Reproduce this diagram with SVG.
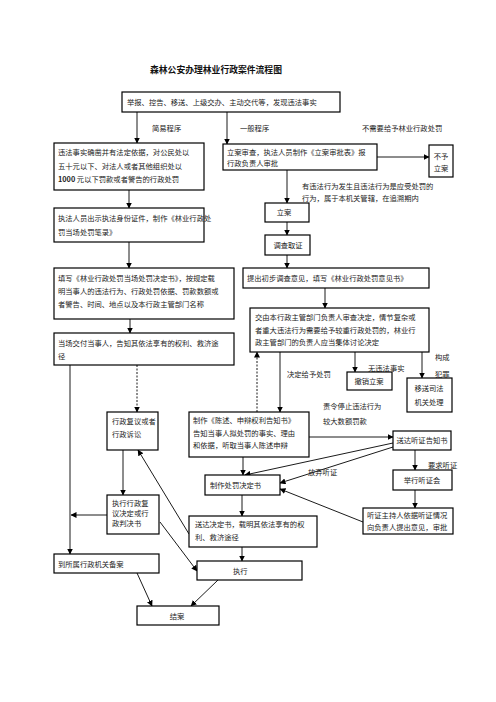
<svg xmlns="http://www.w3.org/2000/svg" width="496" height="702" viewBox="0 0 496 702">
<defs>
<marker id="ah" markerWidth="6" markerHeight="6" refX="5.5" refY="3" orient="auto" markerUnits="userSpaceOnUse">
<path d="M0,0 L6,3 L0,6 Z" fill="#000"/>
</marker>
<style>
.box{fill:#fff;stroke:#000;stroke-width:1.2}
.t{font-family:"Noto Sans CJK SC","Noto Sans",sans-serif;font-size:7.3px;fill:#222}
.m{text-anchor:middle}
.c{fill:none;stroke:#000;stroke-width:0.9}
.a{marker-end:url(#ah)}
.d{stroke-dasharray:2,1.5}
.title{font-family:"Noto Sans CJK SC","Noto Sans",sans-serif;font-size:8.8px;font-weight:bold;fill:#111}
</style>
</defs>
<rect width="496" height="702" fill="#fff"/>
<text class="title" x="150" y="73">森林公安办理林业行政案件流程图</text>

<g id="connectors">
<line class="c a" x1="137" y1="112" x2="137" y2="143"/>
<line class="c a" x1="227" y1="112" x2="227" y2="144"/>
<line class="c a" x1="377" y1="157" x2="429" y2="157"/>
<line class="c a" x1="287" y1="170" x2="287" y2="203"/>
<line class="c a" x1="287" y1="222" x2="287" y2="235"/>
<line class="c a" x1="287" y1="255" x2="287" y2="268"/>
<line class="c a" x1="325" y1="288" x2="325" y2="308"/>
<line class="c a" x1="129" y1="190" x2="129" y2="208"/>
<line class="c a" x1="129" y1="242" x2="129" y2="268"/>
<line class="c a" x1="130" y1="319" x2="130" y2="333"/>
<line class="c a d" x1="137" y1="365" x2="137" y2="412"/>
<line class="c a" x1="70" y1="365" x2="70" y2="554"/>
<line class="c a d" x1="257" y1="412" x2="257" y2="352"/>
<line class="c a" x1="280" y1="352" x2="280" y2="412"/>
<line class="c a" x1="355" y1="352" x2="355" y2="372"/>
<line class="c a" x1="422" y1="352" x2="422" y2="378"/>
<line class="c a" x1="309" y1="437" x2="393" y2="437"/>
<line class="c a" x1="415" y1="450" x2="415" y2="470"/>
<line class="c a" x1="393" y1="443" x2="245" y2="475"/>
<line class="c a" x1="393" y1="447" x2="280" y2="483"/>
<line class="c a" x1="415" y1="490" x2="415" y2="508"/>
<line class="c a" x1="363" y1="522" x2="280" y2="489"/>
<line class="c a" x1="243" y1="457" x2="243" y2="475"/>
<line class="c a" x1="242" y1="495" x2="242" y2="516"/>
<line class="c a" x1="242" y1="547" x2="242" y2="561"/>
<line class="c a" x1="189" y1="534" x2="138" y2="450"/>
<line class="c a" x1="123" y1="450" x2="123" y2="495"/>
<line class="c a" x1="107" y1="515" x2="71" y2="515"/>
<line class="c a" x1="160" y1="522" x2="197" y2="571"/>
<line class="c a" x1="137" y1="573" x2="152" y2="606"/>
<line class="c a" x1="218" y1="580" x2="191" y2="606"/>
</g>

<g id="labels">
<text class="t" x="152" y="131">简易程序</text>
<text class="t" x="240" y="131">一般程序</text>
<text class="t" x="362" y="131">不需要给予林业行政处罚</text>
<text class="t" x="302" y="189">有违法行为发生且违法行为是应受处罚的</text>
<text class="t" x="302" y="201">行为，属于本机关管辖，在追溯期内</text>
<text class="t" x="287" y="377">决定给予处罚</text>
<text class="t" x="368" y="371">无违法事实</text>
<text class="t" x="435" y="360">构成</text>
<text class="t" x="435" y="377">犯罪</text>
<text class="t" x="323" y="409">责令停止违法行为</text>
<text class="t" x="323" y="424">较大数额罚款</text>
<text class="t" x="428" y="468">要求听证</text>
<text class="t" x="308" y="475">放弃听证</text>
</g>

<g id="n-top"><rect class="box" x="122" y="92" width="218" height="20"/>
<text class="t" x="127" y="105">举报、控告、移送、上级交办、主动交代等，发现违法事实</text></g>

<g id="n-simple"><rect class="box" x="54" y="143" width="150" height="47"/>
<text class="t" x="58" y="155">违法事实确凿并有法定依据，对公民处以</text>
<text class="t" x="58" y="169">五十元以下、对法人或者其他组织处以</text>
<text class="t" x="58" y="182"><tspan font-weight="bold">1000</tspan> 元以下罚款或者警告的行政处罚</text></g>

<g id="n-review"><rect class="box" x="223" y="144" width="154" height="26"/>
<text class="t" x="227" y="155">立案审查，执法人员制作《立案审批表》报</text>
<text class="t" x="227" y="166">行政负责人审批</text></g>

<g id="n-noreg"><rect class="box" x="429" y="145" width="24" height="32"/>
<text class="t m" x="441" y="159">不予</text>
<text class="t m" x="441" y="171">立案</text></g>

<g id="n-reg"><rect class="box" x="265" y="203" width="44" height="19"/>
<text class="t m" x="284" y="215">立案</text></g>

<g id="n-invest"><rect class="box" x="265" y="235" width="45" height="20"/>
<text class="t m" x="288" y="248">调查取证</text></g>

<g id="n-opinion"><rect class="box" x="243" y="268" width="186" height="20"/>
<text class="t" x="247" y="281">提出初步调查意见，填写《林业行政处罚意见书》</text></g>

<g id="n-show"><rect class="box" x="54" y="208" width="150" height="34"/>
<text class="t" x="58" y="221">执法人员出示执法身份证件，制作《林业行政处</text>
<text class="t" x="58" y="235">罚当场处罚笔录》</text></g>

<g id="n-fill"><rect class="box" x="54" y="268" width="180" height="51"/>
<text class="t" x="58" y="281">填写《林业行政处罚当场处罚决定书》，按规定载</text>
<text class="t" x="58" y="294">明当事人的违法行为、行政处罚依据、罚款数额或</text>
<text class="t" x="58" y="307">者警告、时间、地点以及本行政主管部门名称</text></g>

<g id="n-deliver"><rect class="box" x="54" y="333" width="180" height="32"/>
<text class="t" x="58" y="346">当场交付当事人，告知其依法享有的权利、救济途</text>
<text class="t" x="58" y="359">径</text></g>

<g id="n-decide"><rect class="box" x="250" y="308" width="179" height="44"/>
<text class="t" x="255" y="320">交由本行政主管部门负责人审查决定，情节复杂或</text>
<text class="t" x="255" y="333">者重大违法行为需要给予较重行政处罚的，林业行</text>
<text class="t" x="255" y="345">政主管部门的负责人应当集体讨论决定</text></g>

<g id="n-cancel"><rect class="box" x="347" y="372" width="45" height="18"/>
<text class="t m" x="369" y="384">撤销立案</text></g>

<g id="n-judicial"><rect class="box" x="407" y="378" width="45" height="34"/>
<text class="t m" x="429" y="391">移送司法</text>
<text class="t m" x="429" y="405">机关处理</text></g>

<g id="n-appeal"><rect class="box" x="107" y="412" width="51" height="38"/>
<text class="t" x="112" y="424">行政复议或者</text>
<text class="t" x="112" y="437">行政诉讼</text></g>

<g id="n-notice"><rect class="box" x="189" y="412" width="120" height="45"/>
<text class="t" x="193" y="423">制作《陈述、申辩权利告知书》</text>
<text class="t" x="193" y="436">告知当事人拟处罚的事实、理由</text>
<text class="t" x="193" y="448">和依据，听取当事人陈述申辩</text></g>

<g id="n-hearnotice"><rect class="box" x="393" y="431" width="58" height="19"/>
<text class="t m" x="422" y="443">送达听证告知书</text></g>

<g id="n-hearing"><rect class="box" x="393" y="470" width="59" height="20"/>
<text class="t m" x="422" y="483">举行听证会</text></g>

<g id="n-penalty"><rect class="box" x="205" y="475" width="75" height="20"/>
<text class="t" x="210" y="488">制作处罚决定书</text></g>

<g id="n-exec-appeal"><rect class="box" x="107" y="495" width="52" height="39"/>
<text class="t" x="112" y="506">执行行政复</text>
<text class="t" x="112" y="516">议决定或行</text>
<text class="t" x="112" y="526">政判决书</text></g>

<g id="n-host"><rect class="box" x="363" y="508" width="90" height="26"/>
<text class="t" x="367" y="518">听证主持人依据听证情况</text>
<text class="t" x="367" y="530">向负责人提出意见，审批</text></g>

<g id="n-send"><rect class="box" x="189" y="516" width="128" height="31"/>
<text class="t" x="195" y="527">送达决定书，载明其依法享有的权</text>
<text class="t" x="195" y="540">利、救济途径</text></g>

<g id="n-file"><rect class="box" x="54" y="554" width="105" height="19"/>
<text class="t" x="58" y="567">到所属行政机关备案</text></g>

<g id="n-exec"><rect class="box" x="197" y="561" width="105" height="19"/>
<text class="t" x="233" y="574">执行</text></g>

<g id="n-close"><rect class="box" x="137" y="606" width="82" height="19"/>
<text class="t m" x="177" y="619">结案</text></g>
</svg>
